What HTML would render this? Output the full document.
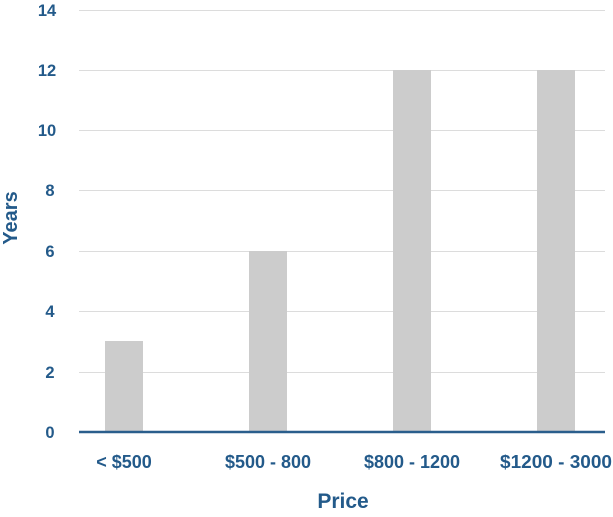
<!DOCTYPE html><html><head><style>body{margin:0;background:#fff}svg text{font-family:"Liberation Sans",sans-serif;font-weight:bold;fill:#235a8a}</style></head><body>
<svg width="613" height="512" xmlns="http://www.w3.org/2000/svg">
<g stroke="#dcdcdc" stroke-width="1">
<line x1="79" x2="605" y1="10.5" y2="10.5"/><line x1="79" x2="605" y1="70.5" y2="70.5"/><line x1="79" x2="605" y1="130.5" y2="130.5"/><line x1="79" x2="605" y1="190.5" y2="190.5"/><line x1="79" x2="605" y1="251.5" y2="251.5"/><line x1="79" x2="605" y1="311.5" y2="311.5"/><line x1="79" x2="605" y1="372.5" y2="372.5"/>
</g>
<g fill="#cccccc">
<rect x="105" y="341" width="38" height="91"/><rect x="249" y="251" width="38" height="181"/><rect x="393" y="70" width="38" height="362"/><rect x="537" y="70" width="38" height="362"/>
</g>
<line x1="79" x2="605" y1="432" y2="432" stroke="#2a5e8c" stroke-width="2.5"/>
<g font-size="16.5" text-anchor="middle">
<text x="50" y="438">0</text><text x="50" y="378">2</text><text x="50" y="317">4</text><text x="50" y="257">6</text><text x="50" y="196">8</text><text x="47" y="136">10</text><text x="47" y="76">12</text><text x="47" y="16">14</text>
</g>
<g font-size="18" text-anchor="middle">
<text x="124" y="468">&lt; $500</text><text x="268" y="468">$500 - 800</text><text x="412" y="468">$800 - 1200</text><text x="556" y="468" textLength="112" lengthAdjust="spacingAndGlyphs">$1200 - 3000</text>
</g>
<text x="343" y="508" font-size="21" text-anchor="middle">Price</text>
<text x="0" y="0" font-size="20" text-anchor="middle" transform="translate(17,218) rotate(-90)">Years</text>
</svg></body></html>
